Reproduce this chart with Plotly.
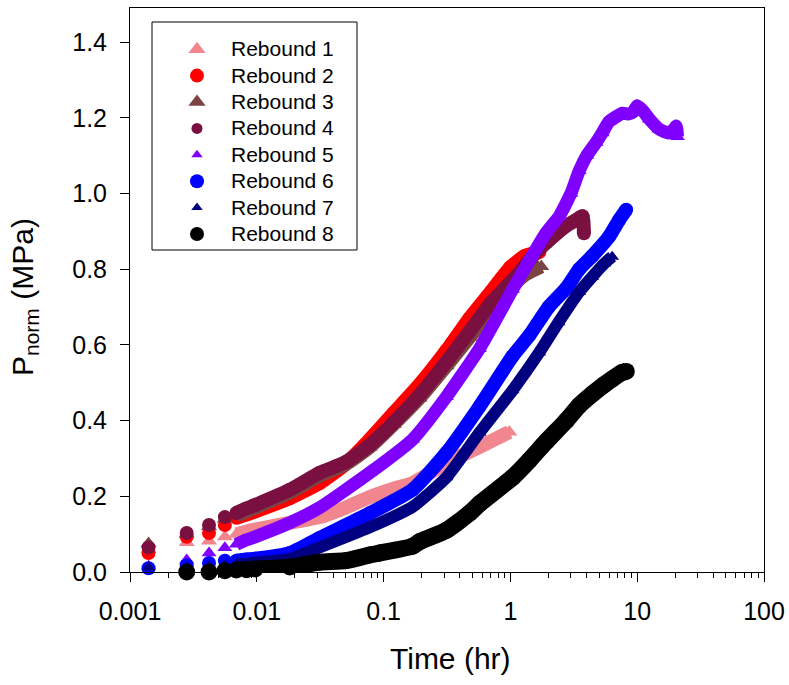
import plotly.graph_objects as go

# ---- data (time in hr, P_norm in MPa) ----
names = ["Rebound 1", "Rebound 2", "Rebound 3", "Rebound 4",
         "Rebound 5", "Rebound 6", "Rebound 7", "Rebound 8"]

t1 = [0.0014, 0.0028, 0.0042, 0.0056, 0.0069, 0.0083, 0.0097, 0.0182, 0.0313, 0.05, 0.0777, 0.12, 0.169, 0.313, 0.57, 0.98]
p1 = [0.06, 0.078, 0.082, 0.093, 0.10, 0.107, 0.112, 0.13, 0.145, 0.17, 0.198, 0.22, 0.235, 0.288, 0.33, 0.37]

t2 = [0.0014, 0.0028, 0.0042, 0.0056, 0.0069, 0.0083, 0.0097, 0.0182, 0.0313, 0.05, 0.0777, 0.12, 0.192, 0.313, 0.475, 0.70, 1.0, 1.3, 1.69]
p2 = [0.05, 0.093, 0.103, 0.124, 0.143, 0.152, 0.16, 0.195, 0.235, 0.285, 0.35, 0.42, 0.495, 0.585, 0.67, 0.74, 0.805, 0.835, 0.845]

t3 = [0.0014, 0.0028, 0.0042, 0.0056, 0.0069, 0.0083, 0.0097, 0.0182, 0.0313, 0.05, 0.0777, 0.12, 0.192, 0.313, 0.475, 0.70, 1.0, 1.3, 1.75]
p3 = [0.075, 0.10, 0.12, 0.14, 0.15, 0.16, 0.17, 0.21, 0.255, 0.285, 0.33, 0.39, 0.46, 0.545, 0.62, 0.69, 0.75, 0.785, 0.807]

t4 = [0.0014, 0.0028, 0.0042, 0.0056, 0.0069, 0.0083, 0.0097, 0.0182, 0.0313, 0.05, 0.0777, 0.12, 0.192, 0.313, 0.475, 0.70, 1.17, 1.5, 1.92, 2.76, 3.3, 3.7, 3.8]
p4 = [0.065, 0.103, 0.124, 0.145, 0.156, 0.168, 0.177, 0.217, 0.262, 0.29, 0.335, 0.395, 0.467, 0.555, 0.635, 0.71, 0.79, 0.835, 0.87, 0.915, 0.93, 0.94, 0.895]

t5 = [0.0014, 0.0028, 0.0042, 0.0056, 0.0069, 0.0083, 0.0097, 0.0182, 0.0313, 0.0777, 0.169, 0.313, 0.57, 1.04, 1.92, 2.43, 3.0, 3.49, 4.0, 4.75, 5.3, 6.0, 7.0, 7.62, 8.5, 9.3, 10.0, 11.0, 12.5, 14.9, 17.7, 19.5, 20.3, 20.8]
p5 = [0.015, 0.032, 0.05, 0.064, 0.073, 0.085, 0.093, 0.13, 0.17, 0.262, 0.35, 0.463, 0.59, 0.746, 0.897, 0.94, 1.0, 1.06, 1.10, 1.135, 1.16, 1.19, 1.205, 1.212, 1.21, 1.215, 1.232, 1.22, 1.196, 1.17, 1.16, 1.17, 1.178, 1.15]

t6 = [0.0014, 0.0028, 0.0042, 0.0056, 0.0069, 0.0083, 0.0097, 0.0182, 0.0313, 0.0777, 0.169, 0.313, 0.57, 1.04, 1.41, 2.0, 2.76, 3.49, 4.42, 6.0, 7.2, 8.19]
p6 = [0.01, 0.018, 0.024, 0.03, 0.03, 0.033, 0.035, 0.05, 0.09, 0.155, 0.217, 0.315, 0.437, 0.57, 0.625, 0.70, 0.75, 0.80, 0.835, 0.886, 0.93, 0.957]

t7 = [0.0014, 0.0028, 0.0042, 0.0056, 0.0069, 0.0083, 0.0097, 0.0182, 0.0313, 0.0777, 0.169, 0.313, 0.57, 1.04, 1.69, 2.4, 3.49, 4.42, 5.5, 6.35]
p7 = [0.012, 0.012, 0.015, 0.018, 0.02, 0.022, 0.025, 0.035, 0.065, 0.118, 0.172, 0.25, 0.368, 0.48, 0.58, 0.66, 0.74, 0.78, 0.815, 0.833]

t8 = [0.0028, 0.0042, 0.0056, 0.0069, 0.0083, 0.0097, 0.0182, 0.0313, 0.05, 0.0777, 0.093, 0.169, 0.192, 0.313, 0.475, 0.57, 1.04, 1.41, 1.92, 2.76, 3.49, 4.42, 5.5, 6.35, 7.6, 8.2]
p8 = [0.0, 0.0, 0.003, 0.005, 0.006, 0.008, 0.013, 0.026, 0.03, 0.045, 0.05, 0.068, 0.08, 0.11, 0.155, 0.18, 0.25, 0.295, 0.345, 0.40, 0.44, 0.47, 0.495, 0.51, 0.527, 0.53]

times = [t1, t2, t3, t4, t5, t6, t7, t8]
values = [p1, p2, p3, p4, p5, p6, p7, p8]

x_tickvals = [0.001, 0.01, 0.1, 1, 10, 100]
x_ticktext = ["0.001", "0.01", "0.1", "1", "10", "100"]
y_tickvals = [0.0, 0.2, 0.4, 0.6, 0.8, 1.0, 1.2, 1.4]
y_ticktext = ["0.0", "0.2", "0.4", "0.6", "0.8", "1.0", "1.2", "1.4"]

# ---- styles ----
colors = ["#F2868F", "#FF0000", "#7B4444", "#7A1040",
          "#8000FF", "#0000FF", "#000080", "#000000"]
symbols = ["triangle-up", "circle", "triangle-up", "circle",
           "triangle-up", "circle", "triangle-up", "circle"]
sizes = [14, 14, 14, 14, 13, 14, 12, 17]
legend_sizes = [15, 14, 15, 11, 10, 14, 10, 14]

FONT = "Arial, 'Liberation Sans', sans-serif"

fig = go.Figure()
for i in range(8):
    t, p = times[i], values[i]
    k = next(j for j, v in enumerate(t) if v >= 0.0069)
    fig.add_trace(go.Scatter(
        x=t[k:], y=p[k:], mode="lines",
        line=dict(color=colors[i], width=sizes[i], shape="spline", smoothing=0.5),
        showlegend=False, hoverinfo="skip", cliponaxis=False))
    fig.add_trace(go.Scatter(
        x=t, y=p, mode="markers",
        marker=dict(symbol=symbols[i], size=sizes[i], color=colors[i],
                    line=dict(width=0)),
        showlegend=False, cliponaxis=False, name=names[i]))

# legend entries (text drawn at 21 px, rows spaced for 18 px)
for i in range(8):
    fig.add_trace(go.Scatter(
        x=[None], y=[None], mode="markers",
        name='<span style="font-size:21px">' + names[i] + "</span>",
        marker=dict(symbol=symbols[i], size=legend_sizes[i], color=colors[i],
                    line=dict(width=0))))

minor_vals = [m * 10.0 ** e for e in range(-3, 2) for m in range(2, 10)]

PW, PH = 634, 564  # plot area in px (left 130, top 8)


def px_x(x):
    return (x - 130) / PW


def px_y(y):
    return (572 - y) / PH


fig.update_layout(
    width=789, height=685,
    margin=dict(l=130, r=25, t=8, b=113, autoexpand=False),
    paper_bgcolor="white", plot_bgcolor="white",
    font=dict(family=FONT, color="black", size=22),
    showlegend=True,
    legend=dict(
        x=px_x(152), y=px_y(31), xanchor="left", yanchor="top",
        bgcolor="rgba(0,0,0,0)", borderwidth=0,
        font=dict(family=FONT, size=18, color="black"),
        itemwidth=58, indentation=11,
    ),
    shapes=[dict(type="rect", xref="paper", yref="paper",
                 x0=px_x(152), x1=px_x(357), y0=px_y(250), y1=px_y(22),
                 line=dict(color="black", width=1), fillcolor="white",
                 layer="above")],
    xaxis=dict(
        type="log", range=[-3, 2], automargin=False,
        tickvals=x_tickvals, ticktext=x_ticktext,
        ticks="outside", ticklen=9, tickwidth=1, tickcolor="black",
        minor=dict(tickvals=minor_vals, ticks="outside", ticklen=5,
                   tickwidth=1, tickcolor="black", showgrid=False),
        showline=True, linecolor="black", linewidth=1, mirror=True,
        showgrid=False, zeroline=False,
        tickfont=dict(size=25, family=FONT), ticklabelstandoff=8,
    ),
    yaxis=dict(
        range=[0, 1.49], automargin=False,
        tickvals=y_tickvals, ticktext=y_ticktext,
        ticks="outside", ticklen=9, tickwidth=1, tickcolor="black",
        showline=True, linecolor="black", linewidth=1, mirror=True,
        showgrid=False, zeroline=False,
        tickfont=dict(size=25, family=FONT), ticklabelstandoff=8,
    ),
    annotations=[
        dict(text="Time (hr)", xref="paper", yref="paper",
             x=px_x(450), y=px_y(658), xanchor="center", yanchor="middle",
             showarrow=False, font=dict(size=30, family=FONT)),
        dict(text="P<sub>norm</sub> (MPa)", xref="paper", yref="paper",
             x=px_x(24), y=px_y(297), textangle=-90,
             xanchor="center", yanchor="middle",
             showarrow=False, font=dict(size=30, family=FONT)),
    ],
)

fig.write_html(
    "out.html",
    config={"displayModeBar": False},
    post_script="document.body.style.margin='0';document.body.style.overflow='hidden';",
)
